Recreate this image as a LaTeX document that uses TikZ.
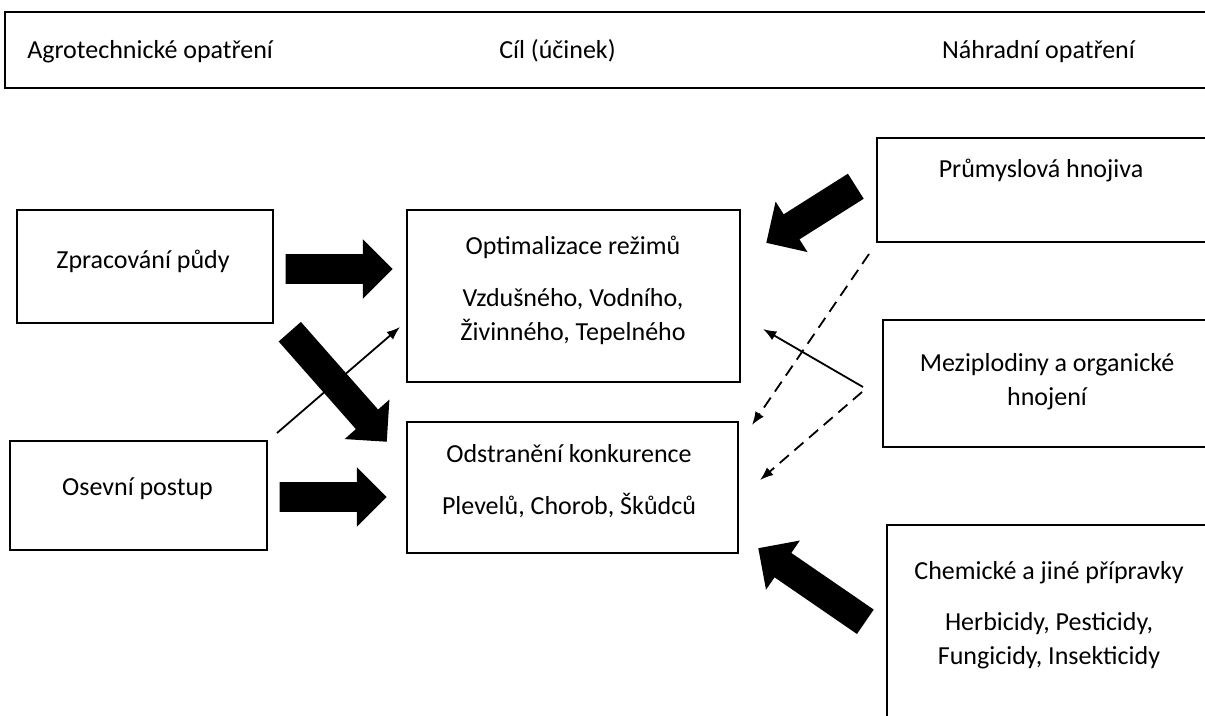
\documentclass[tikz,border=0pt]{standalone}
\usepackage{fontspec}
\setmainfont{Carlito}
\usetikzlibrary{shapes.arrows,arrows.meta}

\tikzset{
  box/.style={draw, line width=2.1pt, rectangle, inner sep=0pt},
  lbl/.style={inner sep=0pt, align=center, font=\fontsize{19.5pt}{25.5pt}\selectfont},
  fat/.style={single arrow, fill=black, draw=none, inner xsep=0pt, inner ysep=10.9pt,
    single arrow head extend=11.3pt, single arrow tip angle=90, minimum height=#1, anchor=tip},
  link/.style={line width=1.35pt, -{Latex[length=10pt,width=7.5pt]}},
  dashlink/.style={link, dash pattern=on 9pt off 5.5pt}
}

\begin{document}
\begin{tikzpicture}[x=0.75pt, y=-0.75pt]
  \useasboundingbox (0,0) rectangle (1205,715);
  \clip (0,0) rectangle (1205,715);

  % header row
  \node[box, minimum width=918.75pt, minimum height=57pt] (head) at (617.5,50) {};
  \node[lbl, anchor=base west] (agro) at (27,58.5) {Agrotechnické opatření};
  \node[lbl, anchor=base] (cil) at (557.5,58.5) {Cíl (účinek)};
  \node[lbl, anchor=base] (nahr) at (1038.5,58.5) {Náhradní opatření};

  % boxes
  \begin{scope}[every node/.style={box}]
    \node[minimum width=192pt, minimum height=84.75pt] (zpr) at (145,266.5) {};
    \node[minimum width=192.75pt, minimum height=81.75pt] (sev) at (138.5,495.5) {};
    \node[minimum width=249.75pt, minimum height=129pt] (opt) at (573.5,296) {};
    \node[minimum width=248.25pt, minimum height=98.25pt] (ods) at (572.5,487.5) {};
    \node[minimum width=264.75pt, minimum height=78pt] (prum) at (1053.5,190) {};
    \node[minimum width=260.25pt, minimum height=95.25pt] (mez) at (1056.5,383.5) {};
    \node[minimum width=257.25pt, minimum height=161.25pt] (chem) at (1058.5,632.5) {};
  \end{scope}

  % texts
  \begin{scope}[every node/.style={lbl}]
    \node (zprtxt) at (143,261) {Zpracování půdy};
    \node (sevtxt) at (137.5,489) {Osevní postup};
    \node (opttxt) at (573,290.5) {Optimalizace režimů\\[13.5pt]Vzdušného, Vodního,\\Živinného, Tepelného};
    \node (odstxt) at (569,481) {Odstranění konkurence\\[13pt]Plevelů, Chorob, Škůdců};
    \node (prumtxt) at (1041,170.5) {Průmyslová hnojiva};
    \node (meztxt) at (1047,381.5) {Meziplodiny a organické\\hnojení};
    \node (chemtxt) at (1049,615.5) {Chemické a jiné přípravky\\[13pt]Herbicidy, Pesticidy,\\Fungicidy, Insekticidy};
  \end{scope}

  % block arrows
  \node[fat=80.25pt] (a1) at (393,269) {};
  \node[fat=80.25pt] (a2) at (387,497) {};
  \node[fat=110pt, rotate=-48.6] (a3) at (387,442) {};
  \node[fat=79.4pt, rotate=-147.7] (a4) at (766,243) {};
  \node[fat=97.4pt, rotate=145.5] (a5) at (758,548) {};

  % thin arrows
  \coordinate (sevout) at (277,433);
  \coordinate (optin) at (400,327);
  \coordinate (mezout) at (863,387);
  \coordinate (optin2) at (763,329);
  \coordinate (mezout2) at (862,392);
  \coordinate (odsin) at (760,480);
  \coordinate (prumout) at (869,254);
  \coordinate (odsin2) at (752,425);

  \draw[link] (sevout) -- (optin);
  \draw[link] (mezout) -- (optin2);
  \draw[dashlink] (mezout2) -- (odsin);
  \draw[dashlink] (prumout) -- (odsin2);

\end{tikzpicture}
\end{document}
